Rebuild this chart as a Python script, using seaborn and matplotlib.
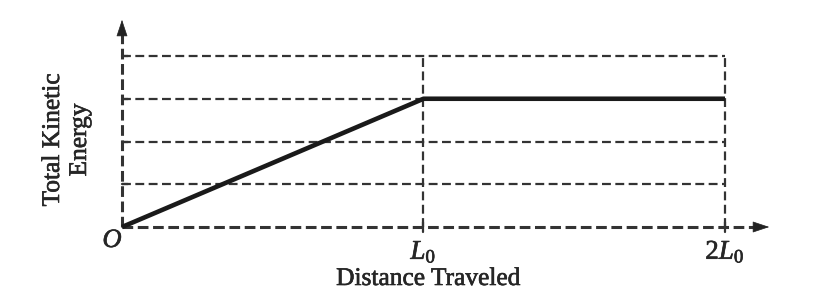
import matplotlib
matplotlib.use("Agg")
import matplotlib.pyplot as plt
import matplotlib.patheffects as pe
import seaborn as sns
import pandas as pd

# Data (in units of L0 and grid units of kinetic energy)
distance = [0.0, 1.0, 2.0]
kinetic_energy = [0.0, 3.0, 3.0]
grid_levels = [1, 2, 3, 4]
vertical_marks = [1.0, 2.0]
x_tick_labels = [r"$\mathit{L}_0$", r"$2\mathit{L}_0$"]
x_label = "Distance Traveled"
y_label_lines = ["Total Kinetic", "Energy"]
origin_label = "O"

sns.set_theme(style="white")
plt.rcParams["font.family"] = ["Liberation Serif", "DejaVu Serif"]
plt.rcParams["mathtext.fontset"] = "custom"
plt.rcParams["mathtext.rm"] = "Liberation Serif"
plt.rcParams["mathtext.it"] = "Liberation Serif:italic"

W, H = 820, 301
fig = plt.figure(figsize=(W / 100, H / 100), dpi=100)
ax = fig.add_axes([0, 0, 1, 1])
# pixel mapping: x_px = 122 + 301.5*x ; y_px(from top) = 227 - 42.75*y
xs, x0 = 301.5, 122
ys, y0 = 42.75, 227
ax.set_xlim(-x0 / xs, (W - x0) / xs)
ax.set_ylim(-(H - y0) / ys, y0 / ys)
ax.axis("off")

gc = "#333333"
dash = (4, 2)
lw = 1.6
xmax_grid = vertical_marks[-1]
ytop_grid = grid_levels[-1]

# horizontal dashed grid lines
for g in grid_levels:
    ax.plot([0, xmax_grid], [g, g], color=gc, lw=lw, dashes=dash)
    ax.plot([0, 0.02], [g, g], color=gc, lw=lw)
# vertical dashed lines
for v in vertical_marks:
    ax.plot([v, v], [0, ytop_grid], color=gc, lw=lw, dashes=dash)
    ax.plot([v, v], [-0.12, 0.12], color=gc, lw=lw)

# axes (dashed) with arrows
x_arrow_end = (772 - x0) / xs
y_arrow_end = (y0 - 17) / ys
ax.plot([0, x_arrow_end - 0.05], [0, 0], color=gc, lw=2.2, dashes=(3.5, 1.5))
ax.plot([0, 0], [0, y_arrow_end - 0.3], color=gc, lw=2.2, dashes=(3.5, 1.5))
ax.annotate("", xy=(x_arrow_end, 0), xytext=(x_arrow_end - 0.06, 0),
            arrowprops=dict(arrowstyle="-|>,head_length=0.9,head_width=0.3", color="#222222", lw=0.5))
ax.annotate("", xy=(0, y_arrow_end), xytext=(0, y_arrow_end - 0.4),
            arrowprops=dict(arrowstyle="-|>,head_length=0.9,head_width=0.3", color="#222222", lw=0.5))

# main line
df = pd.DataFrame({"distance": distance, "ke": kinetic_energy})
sns.lineplot(data=df, x="distance", y="ke", ax=ax, color="#1a1a1a", lw=3.3,
             sort=False, legend=False, solid_capstyle="butt")
ax.set_xlabel("")
ax.set_ylabel("")

tc = "#262626"
stroke = [pe.withStroke(linewidth=0.45, foreground=tc)]
ax.text((112 - x0) / xs, (y0 - 241) / ys, origin_label, fontsize=19, style="italic",
        ha="center", va="center", color=tc, path_effects=stroke)
for v, lab in zip(vertical_marks, x_tick_labels):
    ax.text(v, (y0 - 252) / ys, lab, fontsize=19.5, ha="center", va="center", color=tc,
            path_effects=stroke)
ax.text((428 - x0) / xs, (y0 - 279) / ys, x_label, fontsize=18.3, ha="center", va="center",
        color=tc, path_effects=stroke)
for xp, line in zip([53, 80], y_label_lines):
    ax.text((xp - x0) / xs, (y0 - 140) / ys, line, fontsize=18.3, ha="center", va="center",
            rotation=90, color=tc, path_effects=stroke)

fig.savefig("out.png", dpi=100, facecolor="white")
